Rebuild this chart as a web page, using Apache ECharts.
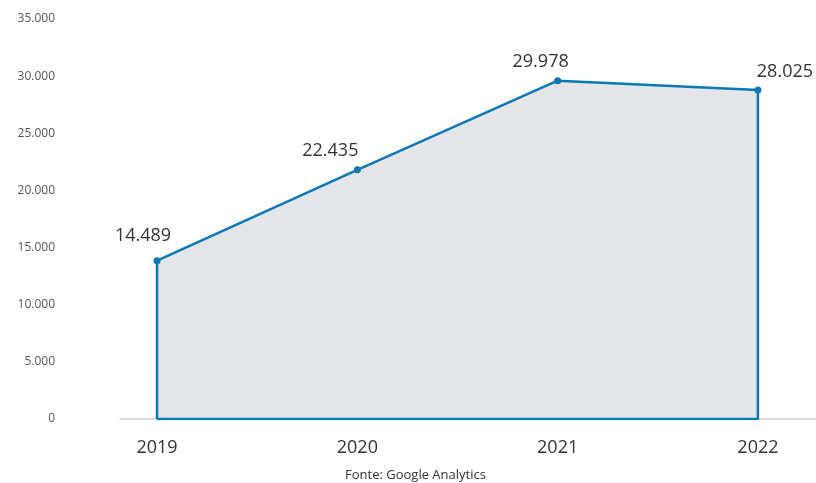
<!DOCTYPE html>
<html>
<head>
<meta charset="utf-8">
<script src="https://cdn.jsdelivr.net/npm/echarts@6/dist/echarts.min.js"></script>
<style>
html,body{margin:0;padding:0;background:#fff;}
#c{width:816px;height:483px;}
</style>
</head>
<body>
<div id="c"></div>
<script>
// Data
const years = [2019, 2020, 2021, 2022];
const plotted = [13850, 21800, 29600, 28790];
const valueLabels = ['14.489', '22.435', '29.978', '28.025'];
const yTicks = [0, 5000, 10000, 15000, 20000, 25000, 30000, 35000];
const source = 'Fonte: Google Analytics';

const labelOffsets = [[-14, -6], [-27, 0], [-17, 0], [27, 0]];

const fmt = v => v === 0 ? '0' : String(v).replace(/\B(?=(\d{3})+(?!\d))/g, '.');

const pts = [];
pts.push({ value: [years[0], 0], symbol: 'none', label: { show: false } });
years.forEach((y, i) => {
  pts.push({
    value: [y, plotted[i]],
    label: {
      show: true, position: 'top', offset: labelOffsets[i],
      formatter: valueLabels[i]
    }
  });
});
pts.push({ value: [years[years.length - 1], 0], symbol: 'none', label: { show: false } });
pts.push({ value: [years[0], 0], symbol: 'none', label: { show: false } });

const chart = echarts.init(document.getElementById('c'), null, { renderer: 'canvas' });
chart.setOption({
  backgroundColor: '#ffffff',
  animation: false,
  grid: { left: 120, right: 1, top: 19, bottom: 64, containLabel: false },
  xAxis: {
    type: 'value',
    min: 2018.815,
    max: 2022.285,
    axisLine: { show: true, onZero: false, lineStyle: { color: '#dcdcdc', width: 2 } },
    axisTick: { show: false },
    splitLine: { show: false },
    axisLabel: {
      customValues: years,
      formatter: v => String(Math.round(v)),
      color: '#333', fontSize: 18, fontFamily: 'Open Sans', margin: 20
    }
  },
  yAxis: {
    type: 'value',
    min: yTicks[0], max: yTicks[yTicks.length - 1], interval: 5000,
    axisLine: { show: false },
    axisTick: { show: false },
    splitLine: { show: false },
    axisLabel: {
      formatter: v => fmt(v),
      color: '#555', fontSize: 12, fontFamily: 'Open Sans', margin: 65
    }
  },
  series: [{
    type: 'line',
    data: pts,
    symbol: 'circle',
    symbolSize: 7,
    lineStyle: { color: '#0a78b5', width: 2.5 },
    itemStyle: { color: '#0a78b5' },
    areaStyle: { color: '#e5e6e9', opacity: 1 },
    label: { color: '#333', fontSize: 18, fontFamily: 'Open Sans', distance: 6 },
    z: 3
  }],
  graphic: [{
    type: 'text', left: 345, top: 469,
    style: { text: source, fill: '#333', fontSize: 13, fontFamily: 'Open Sans' }
  }]
});
</script>
</body>
</html>
